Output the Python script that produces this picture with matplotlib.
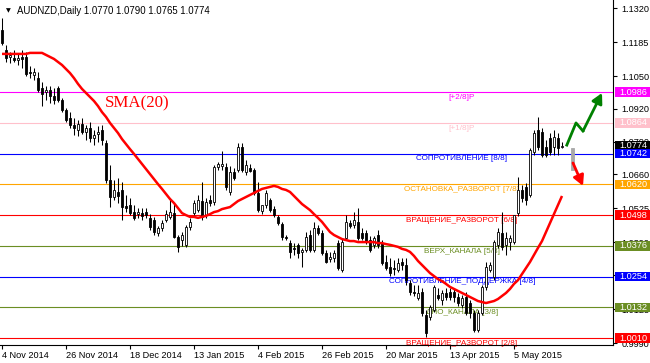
import matplotlib
matplotlib.use('Agg')
import matplotlib.pyplot as plt
import matplotlib.transforms as mtransforms
from matplotlib.patches import Rectangle

plt.rcParams['font.family'] = ['Liberation Sans', 'DejaVu Sans']

symbol = 'AUDNZD,Daily'

# daily OHLC (bar index 0 = 4 Nov 2014)
opens = [
    1.1233, 1.1154, 1.1126, 1.1122, 1.1114, 1.1126, 1.1126, 1.1066, 1.1054, 1.1042,
    1.1003, 1.0987, 1.0995, 1.0971, 1.1003, 1.0955, 1.0915, 1.0884, 1.0856, 1.0836,
    1.0860, 1.0828, 1.0844, 1.0804, 1.0820, 1.0836, 1.0784, 1.0637, 1.0570, 1.0590,
    1.0598, 1.0534, 1.0538, 1.0510, 1.0502, 1.0506, 1.0510, 1.0487, 1.0479, 1.0427,
    1.0447, 1.0479, 1.0491, 1.0506, 1.0411, 1.0399, 1.0380, 1.0451, 1.0506, 1.0518,
    1.0554, 1.0498, 1.0558, 1.0550, 1.0689, 1.0693, 1.0689, 1.0590, 1.0669, 1.0677,
    1.0768, 1.0669, 1.0685, 1.0677, 1.0586, 1.0514, 1.0538, 1.0558, 1.0522, 1.0491,
    1.0463, 1.0411, 1.0387, 1.0368, 1.0380, 1.0352, 1.0360, 1.0419, 1.0360, 1.0447,
    1.0427, 1.0348, 1.0324, 1.0328, 1.0387, 1.0280, 1.0407, 1.0467, 1.0459, 1.0471,
    1.0427, 1.0427, 1.0399, 1.0380, 1.0419, 1.0387, 1.0312, 1.0292, 1.0288, 1.0280,
    1.0312, 1.0300, 1.0228, 1.0193, 1.0169, 1.0193, 1.0102, 1.0094, 1.0121, 1.0181,
    1.0161, 1.0189, 1.0193, 1.0193, 1.0173, 1.0141, 1.0173, 1.0149, 1.0109, 1.0042,
    1.0109, 1.0213, 1.0280, 1.0252, 1.0380, 1.0427, 1.0380, 1.0391, 1.0391, 1.0506,
    1.0598, 1.0610, 1.0578, 1.0749, 1.0836, 1.0828, 1.0768, 1.0804, 1.0768, 1.0804,
    1.0770]
highs = [
    1.1281, 1.1173, 1.1146, 1.1154, 1.1138, 1.1154, 1.1146, 1.1090, 1.1082, 1.1066,
    1.1026, 1.1011, 1.1011, 1.1003, 1.1011, 1.0963, 1.0923, 1.0907, 1.0884, 1.0876,
    1.0884, 1.0856, 1.0868, 1.0836, 1.0852, 1.0856, 1.0796, 1.0697, 1.0637, 1.0645,
    1.0629, 1.0578, 1.0566, 1.0538, 1.0526, 1.0526, 1.0526, 1.0502, 1.0491, 1.0455,
    1.0479, 1.0518, 1.0566, 1.0546, 1.0419, 1.0431, 1.0459, 1.0487, 1.0558, 1.0578,
    1.0629, 1.0566, 1.0578, 1.0697, 1.0709, 1.0753, 1.0705, 1.0693, 1.0685, 1.0784,
    1.0784, 1.0717, 1.0701, 1.0685, 1.0629, 1.0538, 1.0598, 1.0566, 1.0534, 1.0498,
    1.0471, 1.0419, 1.0399, 1.0387, 1.0387, 1.0368, 1.0431, 1.0439, 1.0471, 1.0459,
    1.0439, 1.0360, 1.0352, 1.0360, 1.0399, 1.0407, 1.0498, 1.0479, 1.0510, 1.0526,
    1.0447, 1.0439, 1.0415, 1.0415, 1.0439, 1.0399, 1.0340, 1.0328, 1.0320, 1.0328,
    1.0328, 1.0328, 1.0240, 1.0221, 1.0221, 1.0209, 1.0121, 1.0141, 1.0221, 1.0209,
    1.0201, 1.0209, 1.0209, 1.0209, 1.0189, 1.0181, 1.0193, 1.0161, 1.0121, 1.0121,
    1.0221, 1.0312, 1.0312, 1.0399, 1.0447, 1.0510, 1.0431, 1.0419, 1.0498, 1.0649,
    1.0617, 1.0625, 1.0764, 1.0836, 1.0887, 1.0844, 1.0796, 1.0824, 1.0836, 1.0824,
    1.0790]
lows = [
    1.1173, 1.1106, 1.1102, 1.1106, 1.1094, 1.1082, 1.1050, 1.1042, 1.1034, 1.0987,
    1.0931, 1.0955, 1.0943, 1.0939, 1.0947, 1.0907, 1.0868, 1.0844, 1.0816, 1.0812,
    1.0820, 1.0796, 1.0788, 1.0776, 1.0788, 1.0776, 1.0625, 1.0530, 1.0558, 1.0546,
    1.0479, 1.0510, 1.0498, 1.0479, 1.0487, 1.0479, 1.0487, 1.0439, 1.0419, 1.0415,
    1.0435, 1.0471, 1.0483, 1.0407, 1.0352, 1.0376, 1.0372, 1.0439, 1.0498, 1.0510,
    1.0479, 1.0487, 1.0534, 1.0538, 1.0677, 1.0677, 1.0598, 1.0578, 1.0637, 1.0669,
    1.0669, 1.0657, 1.0669, 1.0578, 1.0510, 1.0502, 1.0526, 1.0510, 1.0491, 1.0459,
    1.0399, 1.0399, 1.0328, 1.0340, 1.0328, 1.0292, 1.0352, 1.0352, 1.0352, 1.0419,
    1.0340, 1.0308, 1.0312, 1.0312, 1.0280, 1.0272, 1.0399, 1.0447, 1.0447, 1.0399,
    1.0399, 1.0383, 1.0352, 1.0368, 1.0368, 1.0300, 1.0280, 1.0256, 1.0260, 1.0272,
    1.0280, 1.0220, 1.0181, 1.0177, 1.0161, 1.0098, 1.0014, 1.0082, 1.0113, 1.0161,
    1.0141, 1.0161, 1.0161, 1.0153, 1.0137, 1.0129, 1.0102, 1.0090, 1.0034, 1.0034,
    1.0102, 1.0201, 1.0272, 1.0240, 1.0368, 1.0360, 1.0340, 1.0360, 1.0383, 1.0495,
    1.0550, 1.0538, 1.0570, 1.0737, 1.0757, 1.0729, 1.0729, 1.0737, 1.0737, 1.0737,
    1.0765]
closes = [
    1.1181, 1.1122, 1.1134, 1.1114, 1.1122, 1.1118, 1.1058, 1.1062, 1.1066, 1.0995,
    1.0979, 1.0995, 1.0971, 1.0955, 1.0955, 1.0915, 1.0876, 1.0856, 1.0844, 1.0860,
    1.0828, 1.0844, 1.0804, 1.0816, 1.0828, 1.0796, 1.0637, 1.0570, 1.0598, 1.0574,
    1.0530, 1.0526, 1.0506, 1.0487, 1.0510, 1.0495, 1.0498, 1.0451, 1.0431, 1.0447,
    1.0467, 1.0502, 1.0510, 1.0411, 1.0372, 1.0419, 1.0451, 1.0471, 1.0546, 1.0558,
    1.0491, 1.0550, 1.0546, 1.0689, 1.0701, 1.0701, 1.0610, 1.0669, 1.0645, 1.0768,
    1.0677, 1.0697, 1.0673, 1.0586, 1.0518, 1.0538, 1.0586, 1.0518, 1.0498, 1.0467,
    1.0411, 1.0407, 1.0352, 1.0364, 1.0348, 1.0360, 1.0411, 1.0360, 1.0447, 1.0427,
    1.0348, 1.0312, 1.0332, 1.0348, 1.0288, 1.0391, 1.0471, 1.0455, 1.0479, 1.0407,
    1.0407, 1.0391, 1.0360, 1.0407, 1.0380, 1.0308, 1.0288, 1.0268, 1.0284, 1.0308,
    1.0300, 1.0240, 1.0193, 1.0189, 1.0189, 1.0109, 1.0030, 1.0133, 1.0213, 1.0169,
    1.0189, 1.0173, 1.0173, 1.0173, 1.0149, 1.0169, 1.0109, 1.0109, 1.0042, 1.0109,
    1.0213, 1.0292, 1.0300, 1.0391, 1.0431, 1.0372, 1.0407, 1.0407, 1.0498, 1.0598,
    1.0566, 1.0558, 1.0757, 1.0824, 1.0768, 1.0737, 1.0737, 1.0749, 1.0808, 1.0765,
    1.0774]

# SMA(20) as drawn on the chart
sma20 = [
    1.1138, 1.1138, 1.1138, 1.1138, 1.1138, 1.1138, 1.1138, 1.1142, 1.1142, 1.1142,
    1.1142, 1.1134, 1.1126, 1.1118, 1.1106, 1.1094, 1.1078, 1.1062, 1.1042, 1.1019,
    1.0999, 1.0983, 1.0967, 1.0951, 1.0931, 1.0907, 1.0888, 1.0864, 1.0844, 1.0824,
    1.0800, 1.0780, 1.0760, 1.0741, 1.0721, 1.0701, 1.0681, 1.0661, 1.0641, 1.0621,
    1.0602, 1.0582, 1.0562, 1.0546, 1.0526, 1.0506, 1.0498, 1.0491, 1.0491, 1.0487,
    1.0491, 1.0495, 1.0502, 1.0510, 1.0514, 1.0522, 1.0526, 1.0530, 1.0542, 1.0554,
    1.0562, 1.0570, 1.0578, 1.0586, 1.0594, 1.0602, 1.0606, 1.0610, 1.0614, 1.0610,
    1.0602, 1.0598, 1.0590, 1.0574, 1.0558, 1.0542, 1.0530, 1.0518, 1.0502, 1.0487,
    1.0471, 1.0451, 1.0431, 1.0419, 1.0411, 1.0403, 1.0399, 1.0395, 1.0395, 1.0391,
    1.0391, 1.0391, 1.0391, 1.0391, 1.0387, 1.0387, 1.0383, 1.0380, 1.0376, 1.0372,
    1.0364, 1.0360, 1.0352, 1.0336, 1.0316, 1.0300, 1.0284, 1.0268, 1.0256, 1.0244,
    1.0236, 1.0225, 1.0213, 1.0205, 1.0197, 1.0189, 1.0181, 1.0173, 1.0165, 1.0157,
    1.0153, 1.0149, 1.0153, 1.0157, 1.0165, 1.0177, 1.0189, 1.0205, 1.0225, 1.0240,
    1.0264, 1.0288, 1.0312, 1.0340, 1.0368, 1.0395, 1.0431, 1.0467, 1.0502, 1.0538,
    1.0574]

date_ticks = [0, 16, 32, 48, 64, 80, 96, 112, 128]
date_labels = ['4 Nov 2014', '26 Nov 2014', '18 Dec 2014', '13 Jan 2015', '4 Feb 2015',
               '26 Feb 2015', '20 Mar 2015', '13 Apr 2015', '5 May 2015']
price_ticks = [1.1320, 1.1185, 1.1050, 1.0920, 1.0790, 1.0660, 1.0525, 1.0390,
               1.0260, 1.0125, 0.9990]

# Murrey math levels
level_prices = [1.0986, 1.0864, 1.0742, 1.0620, 1.0498, 1.0376, 1.0254, 1.0132, 1.0010]
level_names = ['[+2/8]P', '[+1/8]P', 'СОПРОТИВЛЕНИЕ [8/8]', 'ОСТАНОВКА_РАЗВОРОТ [7/8]',
               'ВРАЩЕНИЕ_РАЗВОРОТ [6/8]', 'ВЕРХ_КАНАЛА [5/8]',
               'СОПРОТИВЛЕНИЕ_ПОДДЕРЖКА [4/8]', 'ДНО_КАНАЛА [3/8]', 'ВРАЩЕНИЕ_РАЗВОРОТ [2/8]']
level_colors = ['#FF00FF', '#FFC0CB', '#0000FF', '#FFA500', '#FF0000',
                '#6B8E23', '#0000FF', '#6B8E23', '#FF0000']

# forecast marks to the right of the last bar
ghost_x, ghost_top, ghost_bottom = 142.5, 1.0765, 1.0677
up_path_x = [141.2, 143.5, 145.25, 150.0]
up_path_y = [1.0776, 1.0864, 1.0832, 1.0983]
down_path_x = [142.75, 145.25]
down_path_y = [1.0705, 1.0614]

fig = plt.figure(figsize=(6.5, 3.63), dpi=100)
ax = fig.add_axes([0, 18 / 363, 613 / 650, 345 / 363])
ax.set_xlim(-0.5, 152.75)
ax.set_ylim(0.99824, 1.1352)

# levels
for p, name, c in zip(level_prices, level_names, level_colors):
    ax.axhline(p, color=c, lw=0.8, zorder=1)
    ax.annotate(name, (115, p), xytext=(0, -1.2), textcoords='offset points',
                ha='center', va='top', fontsize=5.9, color=c, zorder=2,
                annotation_clip=False)

# candles
body_w = 0.55
for i, (o, h, l, c) in enumerate(zip(opens, highs, lows, closes)):
    ax.vlines(i, l, h, color='black', lw=0.75, zorder=3)
    bottom = min(o, c)
    height = max(abs(c - o), 0.00012)
    face = 'black' if c < o else 'white'
    ax.add_patch(Rectangle((i - body_w / 2, bottom), body_w, height,
                           facecolor=face, edgecolor='black', lw=0.6, zorder=4))

ax.add_patch(Rectangle((ghost_x - body_w / 2, ghost_bottom), body_w + 0.2,
                       ghost_top - ghost_bottom, facecolor='#A9A9A9',
                       edgecolor='#A9A9A9', lw=0.6, zorder=4))

ax.plot(range(len(sma20)), sma20, color='red', lw=1.8, zorder=5,
        solid_capstyle='butt')
ax.text(25.8, 1.0941, 'SMA(20)', color='red', fontsize=12.2,
        family=['Liberation Serif', 'DejaVu Serif'], ha='left', va='center', zorder=6)

# arrows
ax.plot(up_path_x[:-1], up_path_y[:-1], color='green', lw=2.0, zorder=6)
ax.annotate('', xy=(up_path_x[-1], up_path_y[-1]), xytext=(up_path_x[-2], up_path_y[-2]),
            arrowprops=dict(arrowstyle='-|>,head_length=0.6,head_width=0.32',
                            color='green', lw=2.0, shrinkA=0, shrinkB=0), zorder=6)
ax.annotate('', xy=(down_path_x[-1], down_path_y[-1]), xytext=(down_path_x[0], down_path_y[0]),
            arrowprops=dict(arrowstyle='-|>,head_length=0.6,head_width=0.32',
                            color='red', lw=2.0, shrinkA=0, shrinkB=0), zorder=6)

# axes styling
for s in ['left', 'top']:
    ax.spines[s].set_visible(False)
for s in ['right', 'bottom']:
    ax.spines[s].set_color('black')
    ax.spines[s].set_linewidth(0.8)
ax.yaxis.tick_right()
ax.set_yticks(price_ticks)
ax.set_yticklabels([f'{p:.4f}' for p in price_ticks])
ax.set_xticks(date_ticks)
ax.set_xticklabels(date_labels, ha='left')
ax.tick_params(axis='both', direction='out', length=3, width=0.8, labelsize=6.6,
               colors='black', pad=1.5)
ax.tick_params(axis='y', pad=3)

# price boxes on the right scale
blend = mtransforms.blended_transform_factory(ax.transAxes, ax.transData)
box_h = 0.0038
box_prices = level_prices + [closes[-1]]
box_colors = level_colors + ['black']
order = [8, 7, 6, 5, 4, 3, 9, 2, 1, 0]
for k in order:
    p, c = box_prices[k], box_colors[k]
    z = 7 if k != 9 else 6.5
    ax.add_patch(Rectangle((1.003, p - box_h / 2), 0.06, box_h, transform=blend,
                           facecolor=c, edgecolor='none', clip_on=False, zorder=z))
    ax.text(1.011, p, f'{p:.4f}', transform=blend, color='white', fontsize=6.6,
            ha='left', va='center', clip_on=False, zorder=z + 0.1)

# header
fig.text(17 / 650, 1 - 11 / 363,
         f'{symbol} {opens[-1]:.4f} {highs[-1]:.4f} {lows[-1]:.4f} {closes[-1]:.4f}',
         fontsize=6.9, color='black', va='center', ha='left')
fig.text(8.5 / 650, 1 - 11 / 363, '\u25bc', fontsize=4.5, color='black',
         va='center', ha='center', family=['DejaVu Sans'])

fig.savefig('out.png', dpi=100, facecolor='white')
